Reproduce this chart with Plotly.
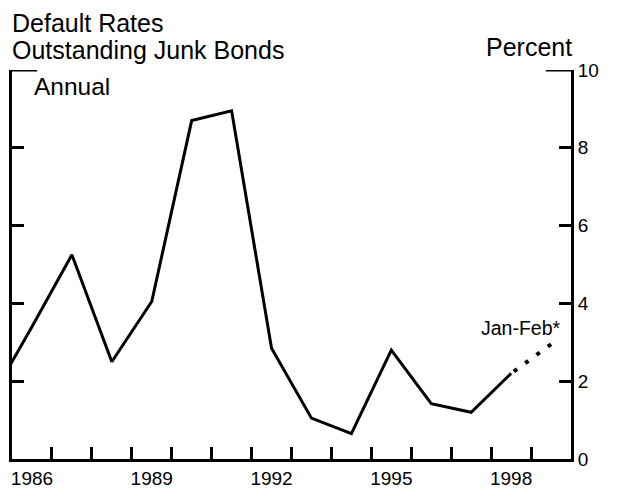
import plotly.graph_objects as go

# Annual default rates on outstanding junk bonds (percent), plotted at mid-year
years = [1985, 1986, 1987, 1988, 1989, 1990, 1991, 1992, 1993, 1994, 1995, 1996, 1997, 1998]
rates = [1.6, 3.4, 5.25, 2.5, 4.05, 8.7, 8.95, 2.85, 1.05, 0.65, 2.8, 1.42, 1.2, 2.2]

# Jan-Feb 1999 (partial-year estimate), connected by a dotted segment
partial_years = [1998, 1999]
partial_rates = [2.2, 2.95]

tick_label_years = [1986, 1989, 1992, 1995, 1998]
year_boundaries = list(range(1987, 2000))
y_ticks = [0, 2, 4, 6, 8, 10]

FONT = "Helvetica, Liberation Sans, Arial, sans-serif"

fig = go.Figure()
fig.add_trace(go.Scatter(
    x=[y + 0.5 for y in years], y=rates, mode="lines",
    line=dict(color="black", width=3), showlegend=False, hoverinfo="skip"))
fig.add_trace(go.Scatter(
    x=[y + 0.5 for y in partial_years][::-1], y=partial_rates[::-1], mode="lines",
    line=dict(color="black", width=4, dash="4px,10px"), showlegend=False, hoverinfo="skip"))

# the page body adds an 8px offset, so margins are trimmed on the left/top
fig.update_layout(
    width=617, height=490,
    margin=dict(l=4, r=54, t=62, b=38.5, autoexpand=False),
    paper_bgcolor="white", plot_bgcolor="white",
    font=dict(family=FONT, color="black"),
    xaxis=dict(
        range=[1986, 2000], showgrid=False, zeroline=False, automargin=False,
        showline=True, linecolor="black", linewidth=3,
        tickmode="array", tickvals=[y + 0.5 for y in tick_label_years],
        ticktext=[str(y) for y in tick_label_years],
        ticks="inside", ticklen=0, tickwidth=0,
        tickfont=dict(size=19, family=FONT),
        minor=dict(tickvals=year_boundaries, ticks="inside", ticklen=12,
                   tickwidth=3, tickcolor="black", showgrid=False),
    ),
    yaxis=dict(
        range=[0, 10], side="right", showgrid=False, zeroline=False, automargin=False,
        showline=True, linecolor="black", linewidth=3, mirror="ticks",
        tickmode="array", tickvals=y_ticks, ticktext=[str(v) for v in y_ticks],
        ticks="inside", ticklen=12, tickwidth=3, tickcolor="black",
        tickfont=dict(size=19, family=FONT),
    ),
    shapes=[
        dict(type="line", xref="x domain", yref="y", x0=0, x1=0.045, y0=10, y1=10,
             line=dict(color="black", width=3)),
        dict(type="line", xref="x domain", yref="y", x0=0.955, x1=1, y0=10, y1=10,
             line=dict(color="black", width=3)),
    ],
    annotations=[
        dict(text="Default Rates", xref="paper", yref="paper", x=-0.003, y=1.121,
             xanchor="left", yanchor="middle", showarrow=False,
             font=dict(size=25, family=FONT)),
        dict(text="Outstanding Junk Bonds", xref="paper", yref="paper", x=-0.003, y=1.0513,
             xanchor="left", yanchor="middle", showarrow=False,
             font=dict(size=25, family=FONT)),
        dict(text="Annual", xref="x", yref="y", x=1986.5, y=9.58,
             xanchor="left", yanchor="middle", showarrow=False,
             font=dict(size=24.5, family=FONT)),
        dict(text="Percent", xref="paper", yref="paper", x=1.006, y=1.058,
             xanchor="right", yanchor="middle", showarrow=False,
             font=dict(size=25, family=FONT)),
        dict(text="Jan-Feb*", xref="x", yref="y", x=1999.8, y=3.36,
             xanchor="right", yanchor="middle", showarrow=False,
             font=dict(size=19.5, family=FONT)),
    ],
)

fig.write_html("out.html")
